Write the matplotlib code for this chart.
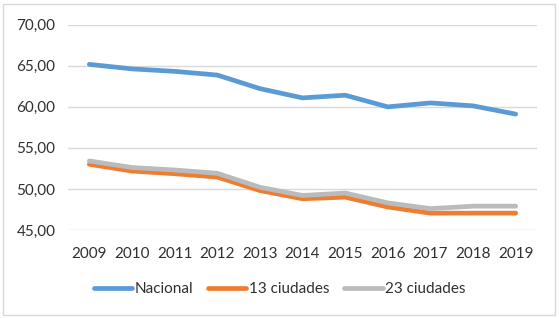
import matplotlib
matplotlib.use("Agg")
import matplotlib.pyplot as plt
from matplotlib.patches import Rectangle
from matplotlib.ticker import FuncFormatter

plt.rcParams['font.family'] = ['Lato', 'DejaVu Sans']

years = [2009, 2010, 2011, 2012, 2013, 2014, 2015, 2016, 2017, 2018, 2019]
nacional = [65.15, 64.6, 64.3, 63.85, 62.2, 61.07, 61.4, 59.98, 60.46, 60.1, 59.1]
ciudades13 = [53.0, 52.17, 51.85, 51.44, 49.8, 48.8, 49.0, 47.8, 47.05, 47.05, 47.05]
ciudades23 = [53.4, 52.6, 52.3, 51.9, 50.2, 49.2, 49.5, 48.3, 47.6, 47.9, 47.9]

fig = plt.figure(figsize=(5.59, 3.18), dpi=100)
ax = fig.add_axes([68/559, 1-230/318, (537-68)/559, (230-24.5)/318])

lw = 3.4
ax.plot(years, nacional, color='#5B9BD5', lw=lw, label='Nacional', solid_capstyle='round')
ax.plot(years, ciudades13, color='#ED7D31', lw=lw, label='13 ciudades', solid_capstyle='round')
ax.plot(years, ciudades23, color='#BBBBBB', lw=lw, label='23 ciudades', solid_capstyle='round')

ax.set_xlim(2008.5, 2019.5)
ax.set_ylim(45, 70)
ax.set_yticks([45, 50, 55, 60, 65, 70])
ax.yaxis.set_major_formatter(FuncFormatter(lambda v, p: f"{v:.2f}".replace('.', ',')))
ax.set_xticks(years)
ax.grid(axis='y', color='#D9D9D9', lw=1)
ax.set_axisbelow(True)
for s in ax.spines.values():
    s.set_visible(False)
ax.tick_params(length=0, labelsize=11, colors='#303030', pad=9)
ax.tick_params(axis='x', pad=12)

fig.legend(loc='center', bbox_to_anchor=(0.5, 1-289/318), ncol=3, frameon=False,
           fontsize=11, handlelength=2.5, handletextpad=0.15, columnspacing=1.0,
           labelcolor='#303030')

fig.patches.append(Rectangle((3/559, 3/318), 552/559, 311/318, transform=fig.transFigure,
                             fill=False, edgecolor='#D9D9D9', lw=1))

fig.savefig('out.png', dpi=100)
